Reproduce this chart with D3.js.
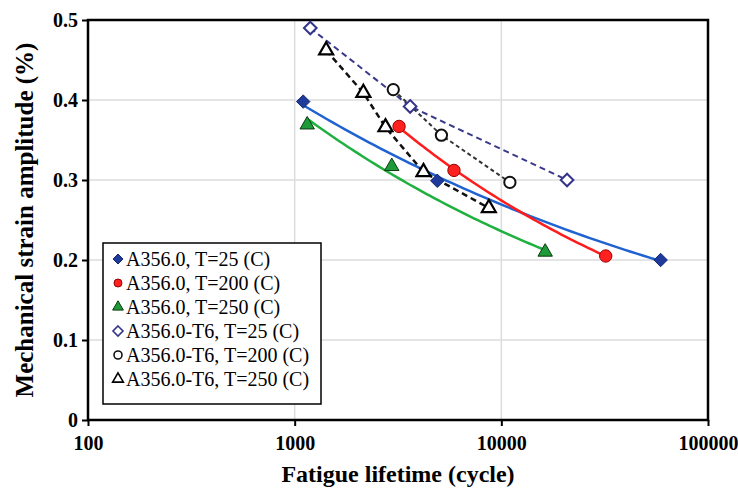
<!DOCTYPE html>
<html>
<head>
<meta charset="utf-8">
<script src="https://cdn.jsdelivr.net/npm/d3@7"></script>
<style>
  body { margin: 0; background: #fff; }
  svg { display: block; font-family: "Liberation Serif", "Times New Roman", serif; }
</style>
</head>
<body>
<div id="chart"></div>
<script>
// ---- data ----
const seriesNames = [
  "A356.0, T=25 (C)",
  "A356.0, T=200 (C)",
  "A356.0, T=250 (C)",
  "A356.0-T6, T=25 (C)",
  "A356.0-T6, T=200 (C)",
  "A356.0-T6, T=250 (C)"
];
const cycles25 = [1100, 4900, 59000];
const strain25 = [0.398, 0.299, 0.200];
const cycles200 = [3200, 5900, 32000];
const strain200 = [0.367, 0.312, 0.205];
const cycles250 = [1150, 2950, 16300];
const strain250 = [0.369, 0.317, 0.210];
const cyclesT6_25 = [1190, 3620, 20800];
const strainT6_25 = [0.490, 0.392, 0.300];
const cyclesT6_200 = [3000, 5130, 11000];
const strainT6_200 = [0.413, 0.356, 0.297];
const cyclesT6_250 = [1420, 2150, 2750, 4200, 8700];
const strainT6_250 = [0.462, 0.409, 0.366, 0.310, 0.265];

const xTicks = [100, 1000, 10000, 100000];
const yTicks = [0, 0.1, 0.2, 0.3, 0.4, 0.5];

// ---- layout ----
const W = 738, H = 494;
const margin = { top: 20, right: 30, bottom: 74, left: 88 };
const iw = W - margin.left - margin.right;
const ih = H - margin.top - margin.bottom;

const svg = d3.select("#chart").append("svg")
  .attr("width", W).attr("height", H);

const x = d3.scaleLog().domain([100, 100000]).range([0, iw]);
const y = d3.scaleLinear().domain([0, 0.5]).range([ih, 0]);

const g = svg.append("g").attr("transform", `translate(${margin.left},${margin.top})`);

// square diamond (equal diagonals), like the Excel marker
const squareDiamond = {
  draw(ctx, size) {
    const r = Math.sqrt(size / 2);
    ctx.moveTo(0, -r);
    ctx.lineTo(r, 0);
    ctx.lineTo(0, r);
    ctx.lineTo(-r, 0);
    ctx.closePath();
  }
};

// gridlines
g.append("g").selectAll("line.hg")
  .data(yTicks.filter(d => d > 0 && d < 0.5))
  .enter().append("line")
  .attr("x1", 0).attr("x2", iw)
  .attr("y1", d => y(d)).attr("y2", d => y(d))
  .style("stroke", "#dcdcdc").style("stroke-width", 1.5);

g.append("g").selectAll("line.vg")
  .data(xTicks.filter(d => d > 100 && d < 100000))
  .enter().append("line")
  .attr("x1", d => x(d)).attr("x2", d => x(d))
  .attr("y1", 0).attr("y2", ih)
  .style("stroke", "#dcdcdc").style("stroke-width", 1.5);

// axes
const yAxis = g.append("g")
  .call(d3.axisLeft(y).tickValues(yTicks).tickSize(6).tickPadding(4)
    .tickFormat(d => d === 0 ? "0" : d3.format(".1f")(d)));
const xAxis = g.append("g").attr("transform", `translate(0,${ih})`)
  .call(d3.axisBottom(x).tickValues(xTicks).tickSize(6).tickPadding(10)
    .tickFormat(d3.format("d")));

[yAxis, xAxis].forEach(a => {
  a.select(".domain").remove();
  a.selectAll(".tick line").style("stroke", "#000").style("stroke-width", 2);
  a.selectAll(".tick text")
    .style("font-family", "'Liberation Serif', serif")
    .style("font-weight", "bold")
    .style("font-size", "20px")
    .style("fill", "#000");
});

// frame
g.append("rect")
  .attr("x", 0).attr("y", 0).attr("width", iw).attr("height", ih)
  .style("fill", "none").style("stroke", "#000").style("stroke-width", 2.5);

// power-law trendline (least squares in log-log space)
function powerFit(xs, ys) {
  const lx = xs.map(Math.log), ly = ys.map(Math.log);
  const mx = d3.mean(lx), my = d3.mean(ly);
  let sxy = 0, sxx = 0;
  for (let i = 0; i < xs.length; i++) {
    sxy += (lx[i] - mx) * (ly[i] - my);
    sxx += (lx[i] - mx) * (lx[i] - mx);
  }
  const b = sxy / sxx;
  const a = Math.exp(my - b * mx);
  return v => a * Math.pow(v, b);
}

const solidSeries = [
  { n: cycles25, e: strain25, color: "#1f62d0" },
  { n: cycles200, e: strain200, color: "#ff1c1c" },
  { n: cycles250, e: strain250, color: "#1fb040" }
];

solidSeries.forEach(s => {
  const f = powerFit(s.n, s.e);
  const lo = d3.min(s.n), hi = d3.max(s.n);
  const pts = d3.range(0, 61).map(i => {
    const v = Math.exp(Math.log(lo) + (Math.log(hi) - Math.log(lo)) * i / 60);
    return [v, f(v)];
  });
  g.append("path")
    .datum(pts)
    .attr("d", d3.line().x(d => x(d[0])).y(d => y(d[1])))
    .style("fill", "none").style("stroke", s.color).style("stroke-width", 2.5);
});

const dashedSeries = [
  { n: cyclesT6_25, e: strainT6_25, color: "#3a3a8c", dash: "6,4", w: 2 },
  { n: cyclesT6_200, e: strainT6_200, color: "#333333", dash: "4,3", w: 2 },
  { n: cyclesT6_250, e: strainT6_250, color: "#111111", dash: "6,4", w: 2.5 }
];

dashedSeries.forEach(s => {
  g.append("path")
    .datum(d3.zip(s.n, s.e))
    .attr("d", d3.line().x(d => x(d[0])).y(d => y(d[1])))
    .style("fill", "none").style("stroke", s.color)
    .style("stroke-width", s.w).style("stroke-dasharray", s.dash);
});

// markers
const markerStyles = [
  { type: squareDiamond, size: 90, fill: "#1f3a9a", stroke: "#14286e", sw: 1 },
  { type: d3.symbolCircle, size: 120, fill: "#ff2020", stroke: "#9a0000", sw: 1 },
  { type: d3.symbolTriangle, size: 90, fill: "#1e9a38", stroke: "#0c3a10", sw: 1 },
  { type: squareDiamond, size: 80, fill: "#fff", stroke: "#34348a", sw: 2 },
  { type: d3.symbolCircle, size: 100, fill: "#fff", stroke: "#111", sw: 2 },
  { type: d3.symbolTriangle, size: 85, fill: "#fff", stroke: "#000", sw: 2.2 }
];
const allN = [cycles25, cycles200, cycles250, cyclesT6_25, cyclesT6_200, cyclesT6_250];
const allE = [strain25, strain200, strain250, strainT6_25, strainT6_200, strainT6_250];

allN.forEach((ns, k) => {
  const m = markerStyles[k];
  g.append("g").selectAll("path")
    .data(d3.zip(ns, allE[k]))
    .enter().append("path")
    .attr("transform", d => `translate(${x(d[0])},${y(d[1])})`)
    .attr("d", d3.symbol().type(m.type).size(m.size))
    .style("fill", m.fill).style("stroke", m.stroke).style("stroke-width", m.sw);
});

// legend
const leg = svg.append("g").attr("transform", "translate(103,243)");
leg.append("rect")
  .attr("width", 218).attr("height", 161)
  .style("fill", "#fff").style("stroke", "#000").style("stroke-width", 1.5);

const rows = leg.selectAll("g.row").data(seriesNames).enter().append("g")
  .attr("transform", (d, i) => `translate(0,${16 + i * 24})`);
rows.append("path")
  .attr("transform", "translate(15,0)")
  .attr("d", (d, i) => d3.symbol().type(markerStyles[i].type).size(50)())
  .style("fill", (d, i) => markerStyles[i].fill)
  .style("stroke", (d, i) => markerStyles[i].stroke)
  .style("stroke-width", (d, i) => Math.min(markerStyles[i].sw, 1.6));
rows.append("text")
  .attr("x", 23).attr("y", 7)
  .style("font-size", "20px")
  .style("fill", "#000")
  .text(d => d);

// axis titles
svg.append("text")
  .attr("x", margin.left + iw / 2).attr("y", 482)
  .attr("text-anchor", "middle")
  .style("font-weight", "bold").style("font-size", "24px")
  .text("Fatigue lifetime (cycle)");

svg.append("text")
  .attr("transform", `translate(33,${margin.top + ih / 2}) rotate(-90)`)
  .attr("text-anchor", "middle")
  .style("font-weight", "bold").style("font-size", "25px")
  .text("Mechanical strain amplitude (%)");
</script>
</body>
</html>
